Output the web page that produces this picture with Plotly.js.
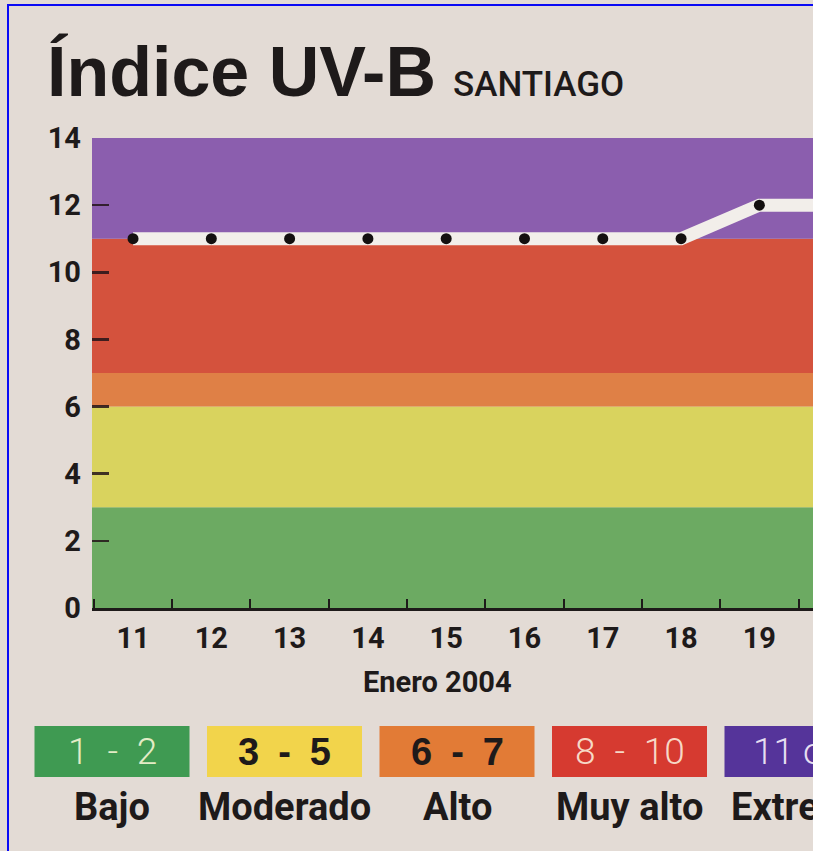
<!DOCTYPE html>
<html>
<head>
<meta charset="utf-8">
<script src="https://cdn.plot.ly/plotly-3.0.1.min.js"></script>
<style>
  html, body { margin: 0; padding: 0; background: #e3dbd5; overflow: hidden; }
  #wrap { position: relative; width: 813px; height: 851px; overflow: hidden; }
  #chart { width: 813px; height: 851px; }
  #frame { position: absolute; left: 7px; top: 4px; width: 1000px; height: 1000px;
           border-left: 2px solid #0a0af5; border-top: 2px solid #0a0af5; pointer-events: none; }
</style>
</head>
<body>
<div id="wrap"><div id="chart"></div><div id="frame"></div></div>
<script>
// ---- data ----
const days = [11, 12, 13, 14, 15, 16, 17, 18, 19, 20];
const uvIndex = [11, 11, 11, 11, 11, 11, 11, 11, 12, 12];
const dayLabels = ['11', '12', '13', '14', '15', '16', '17', '18', '19', '20'];
const yTicks = [0, 2, 4, 6, 8, 10, 12, 14];
const bandLow = [0, 3, 6, 7, 11];
const bandHigh = [3, 6, 7, 11, 14];
const legendRanges = ['1 - 2', '3 - 5', '6 - 7', '8 - 10', '11 o más'];
const legendLabels = ['Bajo', 'Moderado', 'Alto', 'Muy alto', 'Extremo'];

// ---- styles ----
const bandColors = ['#6caa62', '#d9d35e', '#df8046', '#d4523d', '#8b5eae'];
const boxColors = ['#3f9a52', '#f2d44b', '#e27b36', '#d63a30', '#55349a'];
const boxTextColors = ['#e3ecc6', '#1e1a1a', '#1e1a1a', '#f6d8c6', '#e6def0'];
const boxTextBold = [false, true, true, false, false];
const boxTextSpace = ['\u2002', '\u2002', '\u2002', '\u2002', '\u00a0'];
const boxTextLeft = [null, null, null, null, 752];   // page-px left edge when not centred
const ink = '#1e1a1a';
const COND = 'Roboto, "DejaVu Sans", sans-serif';
const W = 813, H = 851, L = 92, R = 0, T = 138, B = 243;
const plotW = W - L - R, plotH = H - T - B;
const px = v => (v - L) / plotW;          // page px -> paper x
const py = v => (H - B - v) / plotH;      // page px -> paper y

const halfTicks = days.map(d => d - 0.5);

const traces = [
  { x: days, y: uvIndex, mode: 'lines', line: { color: '#f2eeea', width: 13 },
    hoverinfo: 'skip', cliponaxis: true },
  { x: days, y: uvIndex, mode: 'markers', marker: { color: '#141010', size: 11 },
    cliponaxis: true }
];

const shapes = bandLow.map((lo, i) => ({
  type: 'rect', xref: 'paper', yref: 'y', x0: 0, x1: 1, y0: lo, y1: bandHigh[i],
  fillcolor: bandColors[i], line: { width: 0 }, layer: 'below'
}));

const annotations = [
  { text: 'Índice UV-B', xref: 'paper', yref: 'paper', x: px(46), y: py(96 - 0.3465 * 70),
    xanchor: 'left', yanchor: 'middle', showarrow: false, borderpad: 0,
    font: { family: 'Liberation Sans', size: 70, color: ink, weight: 'bold' } },
  { text: 'SANTIAGO', xref: 'paper', yref: 'paper', x: px(452), y: py(97 - 0.35 * 35),
    xanchor: 'left', yanchor: 'middle', showarrow: false, borderpad: 0,
    font: { family: COND, size: 35, color: ink, weight: 500 } },
  { text: 'Enero 2004', xref: 'paper', yref: 'paper', x: px(437), y: py(692 - 0.35 * 29),
    xanchor: 'center', yanchor: 'middle', showarrow: false, borderpad: 0,
    font: { family: COND, size: 29, color: ink, weight: 'bold' } }
];

legendRanges.forEach((txt, i) => {
  const cx = 112 + 172.5 * i;
  const bold = boxTextBold[i];
  shapes.push({
    type: 'rect', xref: 'paper', yref: 'paper', x0: px(cx - 77.5), x1: px(cx + 77.5),
    y0: py(777), y1: py(726), fillcolor: boxColors[i], line: { width: 0 }, layer: 'above'
  });
  const left = boxTextLeft[i];
  annotations.push({
    text: txt.replace(/ /g, boxTextSpace[i]),
    xref: 'paper', yref: 'paper', x: px(left === null ? cx : left), y: py(751.5),
    xanchor: left === null ? 'center' : 'left', yanchor: 'middle', showarrow: false, borderpad: 0,
    font: { family: bold ? 'Liberation Sans' : COND, size: bold ? 38 : 37,
            color: boxTextColors[i], weight: bold ? 'bold' : 300 }
  });
  annotations.push({
    text: legendLabels[i], xref: 'paper', yref: 'paper', x: px(cx), y: py(820 - 0.35 * 38),
    xanchor: 'center', yanchor: 'middle', showarrow: false, borderpad: 0,
    font: { family: COND, size: 38, color: ink, weight: 'bold' }
  });
});

const tickFont = { family: COND, size: 29, color: ink, weight: 'bold' };

const layout = {
  width: W, height: H,
  margin: { l: L, r: R, t: T, b: B, pad: 0 },
  paper_bgcolor: '#e3dbd5', plot_bgcolor: '#e3dbd5',
  showlegend: false,
  xaxis: {
    range: [10.476, 19.685], tickmode: 'array', tickvals: days, ticktext: dayLabels,
    ticks: '', showgrid: false, zeroline: false,
    showline: true, linecolor: ink, linewidth: 2.5,
    tickfont: tickFont, ticklabelstandoff: 3, fixedrange: true,
    minor: { tickmode: 'array', tickvals: halfTicks, ticks: 'inside', ticklen: 9,
             tickwidth: 2, tickcolor: ink, showgrid: false }
  },
  yaxis: {
    range: [0, 14], tickmode: 'array', tickvals: yTicks, ticktext: yTicks.map(String),
    ticks: 'inside', ticklen: 17, tickwidth: 2.5, tickcolor: 'rgba(35,20,25,0.85)',
    showgrid: false, zeroline: false, showline: false,
    tickfont: tickFont, ticklabelstandoff: 10, fixedrange: true
  },
  shapes: shapes,
  annotations: annotations
};

Plotly.newPlot('chart', traces, layout, { displayModeBar: false, staticPlot: true });
</script>
</body>
</html>
